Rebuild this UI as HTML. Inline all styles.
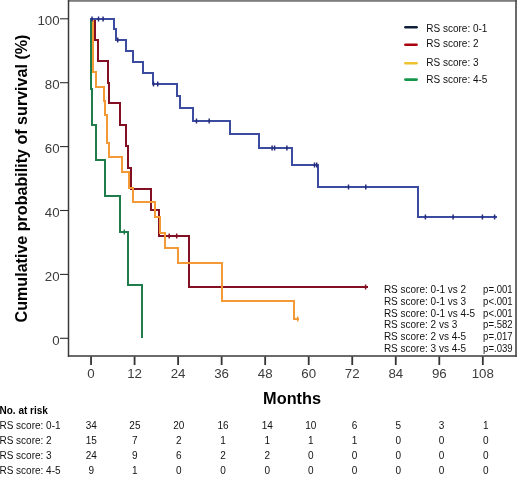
<!DOCTYPE html>
<html><head><meta charset="utf-8"><style>html,body{margin:0;padding:0;background:#fff;width:520px;height:478px;overflow:hidden}</style></head>
<body>
<svg width="520" height="478" viewBox="0 0 520 478" style="display:block">
<rect width="520" height="478" fill="#fff"/>
<rect x="68.2" y="0" width="448.8" height="1.8" fill="#7d7d7d"/>
<line x1="516" y1="0" x2="516" y2="356.8" stroke="#505050" stroke-width="1.7"/>
<line x1="68.5" y1="0" x2="68.5" y2="357" stroke="#3a3a3a" stroke-width="1.5"/>
<line x1="68" y1="356" x2="516.8" y2="356" stroke="#3a3a3a" stroke-width="1.6"/>
<line x1="60" y1="18.8" x2="68.5" y2="18.8" stroke="#2e2e2e" stroke-width="1.1"/>
<line x1="60" y1="82.7" x2="68.5" y2="82.7" stroke="#2e2e2e" stroke-width="1.1"/>
<line x1="60" y1="146.6" x2="68.5" y2="146.6" stroke="#2e2e2e" stroke-width="1.1"/>
<line x1="60" y1="210.5" x2="68.5" y2="210.5" stroke="#2e2e2e" stroke-width="1.1"/>
<line x1="60" y1="274.4" x2="68.5" y2="274.4" stroke="#2e2e2e" stroke-width="1.1"/>
<line x1="60" y1="338.3" x2="68.5" y2="338.3" stroke="#2e2e2e" stroke-width="1.1"/>
<line x1="91.05" y1="356.5" x2="91.05" y2="365" stroke="#333" stroke-width="1.8"/>
<line x1="134.58" y1="356.5" x2="134.58" y2="365" stroke="#333" stroke-width="1.8"/>
<line x1="178.11" y1="356.5" x2="178.11" y2="365" stroke="#333" stroke-width="1.8"/>
<line x1="221.64" y1="356.5" x2="221.64" y2="365" stroke="#333" stroke-width="1.8"/>
<line x1="265.17" y1="356.5" x2="265.17" y2="365" stroke="#333" stroke-width="1.8"/>
<line x1="308.70" y1="356.5" x2="308.70" y2="365" stroke="#333" stroke-width="1.8"/>
<line x1="352.23" y1="356.5" x2="352.23" y2="365" stroke="#333" stroke-width="1.8"/>
<line x1="395.76" y1="356.5" x2="395.76" y2="365" stroke="#333" stroke-width="1.8"/>
<line x1="439.29" y1="356.5" x2="439.29" y2="365" stroke="#333" stroke-width="1.8"/>
<line x1="482.82" y1="356.5" x2="482.82" y2="365" stroke="#333" stroke-width="1.8"/>
<path d="M95,19 V40 H98 V61 H108 V83 H109 V103 H120 V125 H126 V146 H128 V168 H131 V189 H151 V210 H159 V236 H189 V287 H368" fill="none" stroke="#820f22" stroke-width="2" stroke-linejoin="miter"/>
<path d="M93,19 V72 H96 V87 H104 V101 H105 V115 H107 V143 H109 V157 H122 V172 H129 V188 H133 V202 H155 V217 H160 V233 H165 V248 H178 V263 H222 V301 H294 V319 H299" fill="none" stroke="#f39a36" stroke-width="2" stroke-linejoin="miter"/>
<path d="M91,19 V89 H92 V125 H96 V160 H105 V196 H120 V232 H128 V285 H142 V338" fill="none" stroke="#1f7d4c" stroke-width="2" stroke-linejoin="miter"/>
<path d="M90,19 H114 V29 H116 V40 H126 V51 H133 V62 H143 V73 H153 V84 H177 V96 H180 V108 H193 V121 H230 V134 H259 V148 H292 V165 H318 V187 H418 V217 H497" fill="none" stroke="#3b4ba0" stroke-width="2" stroke-linejoin="miter"/>
<line x1="92" y1="16.5" x2="92" y2="21.5" stroke="#262c78" stroke-width="1.5"/>
<line x1="98.5" y1="16.5" x2="98.5" y2="21.5" stroke="#262c78" stroke-width="1.5"/>
<line x1="103.1" y1="16.5" x2="103.1" y2="21.5" stroke="#262c78" stroke-width="1.5"/>
<line x1="117.7" y1="37.5" x2="117.7" y2="42.5" stroke="#262c78" stroke-width="1.5"/>
<line x1="153.5" y1="81.5" x2="153.5" y2="86.5" stroke="#262c78" stroke-width="1.5"/>
<line x1="157.7" y1="81.5" x2="157.7" y2="86.5" stroke="#262c78" stroke-width="1.5"/>
<line x1="196.5" y1="118.5" x2="196.5" y2="123.5" stroke="#262c78" stroke-width="1.5"/>
<line x1="209.2" y1="118.5" x2="209.2" y2="123.5" stroke="#262c78" stroke-width="1.5"/>
<line x1="272.1" y1="145.5" x2="272.1" y2="150.5" stroke="#262c78" stroke-width="1.5"/>
<line x1="274.6" y1="145.5" x2="274.6" y2="150.5" stroke="#262c78" stroke-width="1.5"/>
<line x1="286.9" y1="145.5" x2="286.9" y2="150.5" stroke="#262c78" stroke-width="1.5"/>
<line x1="314.5" y1="162.5" x2="314.5" y2="167.5" stroke="#262c78" stroke-width="1.5"/>
<line x1="316.7" y1="162.5" x2="316.7" y2="167.5" stroke="#262c78" stroke-width="1.5"/>
<line x1="348.5" y1="184.5" x2="348.5" y2="189.5" stroke="#262c78" stroke-width="1.5"/>
<line x1="365.8" y1="184.5" x2="365.8" y2="189.5" stroke="#262c78" stroke-width="1.5"/>
<line x1="425.4" y1="214.5" x2="425.4" y2="219.5" stroke="#262c78" stroke-width="1.5"/>
<line x1="453.1" y1="214.5" x2="453.1" y2="219.5" stroke="#262c78" stroke-width="1.5"/>
<line x1="482.4" y1="214.5" x2="482.4" y2="219.5" stroke="#262c78" stroke-width="1.5"/>
<line x1="494.6" y1="214.5" x2="494.6" y2="219.5" stroke="#262c78" stroke-width="1.5"/>
<line x1="169.2" y1="233.5" x2="169.2" y2="238.5" stroke="#820f22" stroke-width="1.5"/>
<line x1="176.7" y1="233.5" x2="176.7" y2="238.5" stroke="#820f22" stroke-width="1.5"/>
<line x1="365.6" y1="284.5" x2="365.6" y2="289.5" stroke="#820f22" stroke-width="1.5"/>
<line x1="297.7" y1="316.5" x2="297.7" y2="321.5" stroke="#f39a36" stroke-width="1.5"/>
<line x1="124.3" y1="229.5" x2="124.3" y2="234.5" stroke="#1f7d4c" stroke-width="1.5"/>
<line x1="405.4" y1="27.2" x2="416.6" y2="27.2" stroke="#10203a" stroke-width="2.6" stroke-linecap="round"/>
<line x1="405.4" y1="44.7" x2="416.6" y2="44.7" stroke="#a8000f" stroke-width="2.6" stroke-linecap="round"/>
<line x1="405.4" y1="63.2" x2="416.6" y2="63.2" stroke="#eec22e" stroke-width="2.6" stroke-linecap="round"/>
<line x1="405.4" y1="79.6" x2="416.6" y2="79.6" stroke="#15974a" stroke-width="2.6" stroke-linecap="round"/>
<g style="filter:grayscale(1)"><text x="59.6" y="25.3" text-anchor="end" font-size="13.3" fill="#3c3c3c" font-family="Liberation Sans, sans-serif">100</text><text x="59.6" y="89.2" text-anchor="end" font-size="13.3" fill="#3c3c3c" font-family="Liberation Sans, sans-serif">80</text><text x="59.6" y="153.1" text-anchor="end" font-size="13.3" fill="#3c3c3c" font-family="Liberation Sans, sans-serif">60</text><text x="59.6" y="217.0" text-anchor="end" font-size="13.3" fill="#3c3c3c" font-family="Liberation Sans, sans-serif">40</text><text x="59.6" y="280.9" text-anchor="end" font-size="13.3" fill="#3c3c3c" font-family="Liberation Sans, sans-serif">20</text><text x="59.6" y="344.8" text-anchor="end" font-size="13.3" fill="#3c3c3c" font-family="Liberation Sans, sans-serif">0</text><text x="91.0" y="377.7" text-anchor="middle" font-size="13.3" fill="#3c3c3c" font-family="Liberation Sans, sans-serif">0</text><text x="134.6" y="377.7" text-anchor="middle" font-size="13.3" fill="#3c3c3c" font-family="Liberation Sans, sans-serif">12</text><text x="178.1" y="377.7" text-anchor="middle" font-size="13.3" fill="#3c3c3c" font-family="Liberation Sans, sans-serif">24</text><text x="221.6" y="377.7" text-anchor="middle" font-size="13.3" fill="#3c3c3c" font-family="Liberation Sans, sans-serif">36</text><text x="265.2" y="377.7" text-anchor="middle" font-size="13.3" fill="#3c3c3c" font-family="Liberation Sans, sans-serif">48</text><text x="308.7" y="377.7" text-anchor="middle" font-size="13.3" fill="#3c3c3c" font-family="Liberation Sans, sans-serif">60</text><text x="352.2" y="377.7" text-anchor="middle" font-size="13.3" fill="#3c3c3c" font-family="Liberation Sans, sans-serif">72</text><text x="395.8" y="377.7" text-anchor="middle" font-size="13.3" fill="#3c3c3c" font-family="Liberation Sans, sans-serif">84</text><text x="439.3" y="377.7" text-anchor="middle" font-size="13.3" fill="#3c3c3c" font-family="Liberation Sans, sans-serif">96</text><text x="482.8" y="377.7" text-anchor="middle" font-size="13.3" fill="#3c3c3c" font-family="Liberation Sans, sans-serif">108</text><text x="292.1" y="403.5" text-anchor="middle" font-size="16" font-weight="bold" fill="#000" textLength="58" lengthAdjust="spacingAndGlyphs" font-family="Liberation Sans, sans-serif">Months</text><text transform="translate(27,178.5) rotate(-90)" text-anchor="middle" font-size="16.1" font-weight="bold" fill="#000" textLength="287.8" lengthAdjust="spacingAndGlyphs" font-family="Liberation Sans, sans-serif">Cumulative probability of survival (%)</text><text x="426.3" y="31.9" font-size="10" fill="#111" font-family="Liberation Sans, sans-serif">RS score: 0-1</text><text x="426.3" y="47.1" font-size="10" fill="#111" font-family="Liberation Sans, sans-serif">RS score: 2</text><text x="426.3" y="65.9" font-size="10" fill="#111" font-family="Liberation Sans, sans-serif">RS score: 3</text><text x="426.3" y="82.9" font-size="10" fill="#111" font-family="Liberation Sans, sans-serif">RS score: 4-5</text><text x="383.9" y="292.7" font-size="10" fill="#111" font-family="Liberation Sans, sans-serif">RS score: 0-1 vs 2</text><text x="483.1" y="292.7" font-size="10" fill="#111" textLength="29.5" lengthAdjust="spacingAndGlyphs" font-family="Liberation Sans, sans-serif">p=.001</text><text x="383.9" y="304.6" font-size="10" fill="#111" font-family="Liberation Sans, sans-serif">RS score: 0-1 vs 3</text><text x="483.1" y="304.6" font-size="10" fill="#111" textLength="29.5" lengthAdjust="spacingAndGlyphs" font-family="Liberation Sans, sans-serif">p&lt;.001</text><text x="383.9" y="316.5" font-size="10" fill="#111" font-family="Liberation Sans, sans-serif">RS score: 0-1 vs 4-5</text><text x="483.1" y="316.5" font-size="10" fill="#111" textLength="29.5" lengthAdjust="spacingAndGlyphs" font-family="Liberation Sans, sans-serif">p&lt;.001</text><text x="383.9" y="328.3" font-size="10" fill="#111" font-family="Liberation Sans, sans-serif">RS score: 2 vs 3</text><text x="483.1" y="328.3" font-size="10" fill="#111" textLength="29.5" lengthAdjust="spacingAndGlyphs" font-family="Liberation Sans, sans-serif">p=.582</text><text x="383.9" y="340.2" font-size="10" fill="#111" font-family="Liberation Sans, sans-serif">RS score: 2 vs 4-5</text><text x="483.1" y="340.2" font-size="10" fill="#111" textLength="29.5" lengthAdjust="spacingAndGlyphs" font-family="Liberation Sans, sans-serif">p=.017</text><text x="383.9" y="352.1" font-size="10" fill="#111" font-family="Liberation Sans, sans-serif">RS score: 3 vs 4-5</text><text x="483.1" y="352.1" font-size="10" fill="#111" textLength="29.5" lengthAdjust="spacingAndGlyphs" font-family="Liberation Sans, sans-serif">p=.039</text><text x="-0.5" y="413.8" font-size="10" font-weight="bold" fill="#000" font-family="Liberation Sans, sans-serif">No. at risk</text><text x="-0.6" y="428.8" font-size="10" fill="#111" font-family="Liberation Sans, sans-serif">RS score: 0-1</text><text x="91.2" y="428.8" text-anchor="middle" font-size="10" fill="#111" font-family="Liberation Sans, sans-serif">34</text><text x="134.9" y="428.8" text-anchor="middle" font-size="10" fill="#111" font-family="Liberation Sans, sans-serif">25</text><text x="178.8" y="428.8" text-anchor="middle" font-size="10" fill="#111" font-family="Liberation Sans, sans-serif">20</text><text x="223" y="428.8" text-anchor="middle" font-size="10" fill="#111" font-family="Liberation Sans, sans-serif">16</text><text x="267.2" y="428.8" text-anchor="middle" font-size="10" fill="#111" font-family="Liberation Sans, sans-serif">14</text><text x="310.8" y="428.8" text-anchor="middle" font-size="10" fill="#111" font-family="Liberation Sans, sans-serif">10</text><text x="354.6" y="428.8" text-anchor="middle" font-size="10" fill="#111" font-family="Liberation Sans, sans-serif">6</text><text x="398.3" y="428.8" text-anchor="middle" font-size="10" fill="#111" font-family="Liberation Sans, sans-serif">5</text><text x="441.5" y="428.8" text-anchor="middle" font-size="10" fill="#111" font-family="Liberation Sans, sans-serif">3</text><text x="485.7" y="428.8" text-anchor="middle" font-size="10" fill="#111" font-family="Liberation Sans, sans-serif">1</text><text x="-0.6" y="443.7" font-size="10" fill="#111" font-family="Liberation Sans, sans-serif">RS score: 2</text><text x="91.2" y="443.7" text-anchor="middle" font-size="10" fill="#111" font-family="Liberation Sans, sans-serif">15</text><text x="134.9" y="443.7" text-anchor="middle" font-size="10" fill="#111" font-family="Liberation Sans, sans-serif">7</text><text x="178.8" y="443.7" text-anchor="middle" font-size="10" fill="#111" font-family="Liberation Sans, sans-serif">2</text><text x="223" y="443.7" text-anchor="middle" font-size="10" fill="#111" font-family="Liberation Sans, sans-serif">1</text><text x="267.2" y="443.7" text-anchor="middle" font-size="10" fill="#111" font-family="Liberation Sans, sans-serif">1</text><text x="310.8" y="443.7" text-anchor="middle" font-size="10" fill="#111" font-family="Liberation Sans, sans-serif">1</text><text x="354.6" y="443.7" text-anchor="middle" font-size="10" fill="#111" font-family="Liberation Sans, sans-serif">1</text><text x="398.3" y="443.7" text-anchor="middle" font-size="10" fill="#111" font-family="Liberation Sans, sans-serif">0</text><text x="441.5" y="443.7" text-anchor="middle" font-size="10" fill="#111" font-family="Liberation Sans, sans-serif">0</text><text x="485.7" y="443.7" text-anchor="middle" font-size="10" fill="#111" font-family="Liberation Sans, sans-serif">0</text><text x="-0.6" y="458.6" font-size="10" fill="#111" font-family="Liberation Sans, sans-serif">RS score: 3</text><text x="91.2" y="458.6" text-anchor="middle" font-size="10" fill="#111" font-family="Liberation Sans, sans-serif">24</text><text x="134.9" y="458.6" text-anchor="middle" font-size="10" fill="#111" font-family="Liberation Sans, sans-serif">9</text><text x="178.8" y="458.6" text-anchor="middle" font-size="10" fill="#111" font-family="Liberation Sans, sans-serif">6</text><text x="223" y="458.6" text-anchor="middle" font-size="10" fill="#111" font-family="Liberation Sans, sans-serif">2</text><text x="267.2" y="458.6" text-anchor="middle" font-size="10" fill="#111" font-family="Liberation Sans, sans-serif">2</text><text x="310.8" y="458.6" text-anchor="middle" font-size="10" fill="#111" font-family="Liberation Sans, sans-serif">0</text><text x="354.6" y="458.6" text-anchor="middle" font-size="10" fill="#111" font-family="Liberation Sans, sans-serif">0</text><text x="398.3" y="458.6" text-anchor="middle" font-size="10" fill="#111" font-family="Liberation Sans, sans-serif">0</text><text x="441.5" y="458.6" text-anchor="middle" font-size="10" fill="#111" font-family="Liberation Sans, sans-serif">0</text><text x="485.7" y="458.6" text-anchor="middle" font-size="10" fill="#111" font-family="Liberation Sans, sans-serif">0</text><text x="-0.6" y="473.5" font-size="10" fill="#111" font-family="Liberation Sans, sans-serif">RS score: 4-5</text><text x="91.2" y="473.5" text-anchor="middle" font-size="10" fill="#111" font-family="Liberation Sans, sans-serif">9</text><text x="134.9" y="473.5" text-anchor="middle" font-size="10" fill="#111" font-family="Liberation Sans, sans-serif">1</text><text x="178.8" y="473.5" text-anchor="middle" font-size="10" fill="#111" font-family="Liberation Sans, sans-serif">0</text><text x="223" y="473.5" text-anchor="middle" font-size="10" fill="#111" font-family="Liberation Sans, sans-serif">0</text><text x="267.2" y="473.5" text-anchor="middle" font-size="10" fill="#111" font-family="Liberation Sans, sans-serif">0</text><text x="310.8" y="473.5" text-anchor="middle" font-size="10" fill="#111" font-family="Liberation Sans, sans-serif">0</text><text x="354.6" y="473.5" text-anchor="middle" font-size="10" fill="#111" font-family="Liberation Sans, sans-serif">0</text><text x="398.3" y="473.5" text-anchor="middle" font-size="10" fill="#111" font-family="Liberation Sans, sans-serif">0</text><text x="441.5" y="473.5" text-anchor="middle" font-size="10" fill="#111" font-family="Liberation Sans, sans-serif">0</text><text x="485.7" y="473.5" text-anchor="middle" font-size="10" fill="#111" font-family="Liberation Sans, sans-serif">0</text></g>
</svg>
</body></html>
